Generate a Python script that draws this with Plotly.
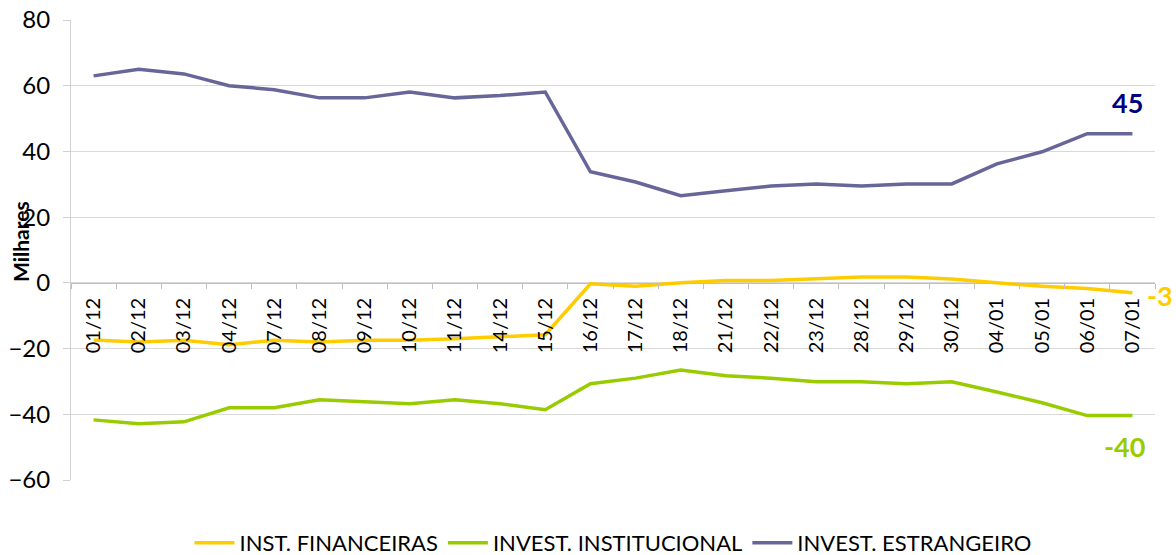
import plotly.graph_objects as go

categories = ["01/12", "02/12", "03/12", "04/12", "07/12", "08/12", "09/12", "10/12", "11/12",
              "14/12", "15/12", "16/12", "17/12", "18/12", "21/12", "22/12", "23/12", "28/12",
              "29/12", "30/12", "04/01", "05/01", "06/01", "07/01"]

inst_financeiras = [-17.4, -18.0, -17.5, -18.8, -17.5, -18.0, -17.5, -17.5, -17.0, -16.3, -15.8,
                    -0.3, -1.0, 0.0, 0.7, 0.7, 1.2, 1.8, 1.8, 1.2, 0.0, -1.0, -1.7, -3.0]
invest_institucional = [-41.7, -42.9, -42.3, -38.0, -38.0, -35.6, -36.2, -36.8, -35.6, -36.8, -38.6,
                        -30.7, -29.0, -26.5, -28.3, -29.0, -30.1, -30.1, -30.7, -30.1, -33.2, -36.5,
                        -40.4, -40.4]
invest_estrangeiro = [63.0, 65.0, 63.6, 60.0, 58.8, 56.3, 56.3, 58.1, 56.3, 57.0, 58.1,
                      33.8, 30.7, 26.5, 28.0, 29.5, 30.1, 29.5, 30.1, 30.1, 36.2, 39.9, 45.4, 45.4]

series_names = ["INST. FINANCEIRAS", "INVEST. INSTITUCIONAL", "INVEST. ESTRANGEIRO"]
colors = ["#FFCC00", "#99CC00", "#666699"]
label_colors = ["#FFCC00", "#99CC00", "#000080"]
y_ticks = [-60, -40, -20, 0, 20, 40, 60, 80]

FONT = "Lato"
fig = go.Figure()
for name, vals, c in zip(series_names, [inst_financeiras, invest_institucional, invest_estrangeiro], colors):
    fig.add_trace(go.Scatter(x=categories, y=vals, name=name, mode="lines",
                             line=dict(color=c, width=3.5)))

ymin, ymax = -60, 80
zero_pos = (0 - ymin) / (ymax - ymin)

fig.update_layout(
    width=1176, height=555,
    margin=dict(l=71, r=21, t=20, b=75, autoexpand=False),
    plot_bgcolor="white", paper_bgcolor="white",
    font=dict(family=FONT, color="#000000"),
    showlegend=True,
    legend=dict(orientation="h", x=0.5, xanchor="center", yref="container", y=(555 - 543) / 555,
                yanchor="middle", font=dict(size=22, family=FONT), itemwidth=40, tracegroupgap=0),
    xaxis=dict(type="category", anchor="free", position=zero_pos, automargin=False,
               showline=True, linecolor="#BFBFBF", linewidth=1,
               ticks="outside", tickcolor="#BFBFBF", ticklen=5, tickson="boundaries",
               tickangle=-90, tickfont=dict(size=20, family=FONT),
               showgrid=False, zeroline=False, range=[-0.5, len(categories) - 0.5],
               ticklabelstandoff=6),
    yaxis=dict(range=[ymin, ymax], tickvals=y_ticks, showline=True, linecolor="#D0D0D0",
               linewidth=1, ticks="outside", tickcolor="#D0D0D0", ticklen=7, automargin=False,
               showgrid=True, gridcolor="#D9D9D9", gridwidth=1, zeroline=False,
               tickfont=dict(size=24, family=FONT), ticklabelstandoff=8),
)

fig.add_annotation(text="<b>Milhares</b>", textangle=-90, xref="paper", yref="paper",
                   x=(20 - 71) / 1084, y=(480 - 242) / 460, xanchor="center", yanchor="middle",
                   showarrow=False, font=dict(size=21, family=FONT, color="#000000"))

last = len(categories) - 1
fig.add_annotation(text=f"<b>{round(invest_estrangeiro[-1])}</b>", x=categories[last], y=54.8,
                   xshift=-5, showarrow=False, font=dict(size=27, family=FONT, color=label_colors[2]))
fig.add_annotation(text=f"<b>{round(inst_financeiras[-1])}</b>", xref="paper", x=(1175 - 71) / 1084,
                   y=-3.7, xanchor="right", showarrow=False,
                   font=dict(size=27, family=FONT, color=label_colors[0]))
fig.add_annotation(text=f"<b>{round(invest_institucional[-1])}</b>", x=categories[last], y=-49.9,
                   xshift=-8, showarrow=False, font=dict(size=27, family=FONT, color=label_colors[1]))

fig.write_html("out.html", config={"displayModeBar": False},
               post_script="document.body.style.margin='0';")
